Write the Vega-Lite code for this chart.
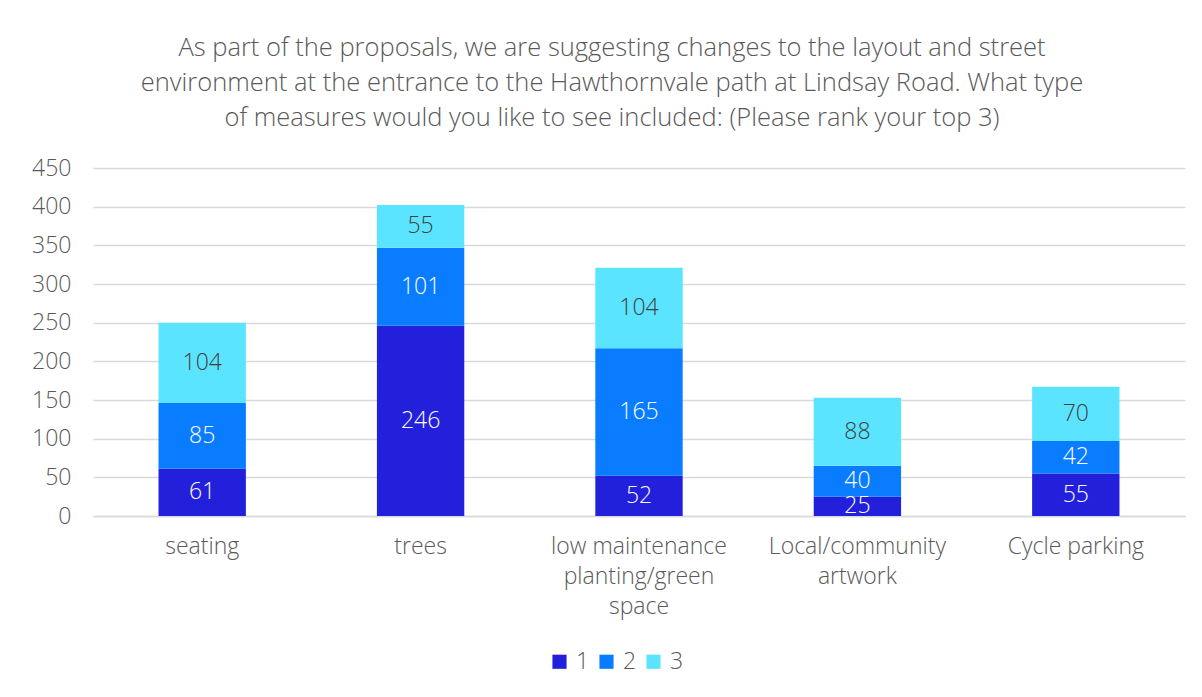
{
  "$schema": "https://vega.github.io/schema/vega-lite/v6.json",
  "width": 1092,
  "height": 348,
  "autosize": {"type": "none"},
  "padding": {"left": 93, "top": 168, "right": 17, "bottom": 181},
  "background": "white",
  "title": {
    "text": ["As part of the proposals, we are suggesting changes to the layout and street", "environment at the entrance to the Hawthornvale path at Lindsay Road. What type", "of measures would you like to see included: (Please rank your top 3)"],
    "anchor": "middle",
    "dx": -27,
    "offset": 26,
    "fontSize": 25.5,
    "font": "Open Sans",
    "fontWeight": 300,
    "color": "#595959",
    "lineHeight": 35
  },
  "data": {
    "values": [
      {"cat": "seating", "rank": "1", "value": 61},
      {"cat": "seating", "rank": "2", "value": 85},
      {"cat": "seating", "rank": "3", "value": 104},
      {"cat": "trees", "rank": "1", "value": 246},
      {"cat": "trees", "rank": "2", "value": 101},
      {"cat": "trees", "rank": "3", "value": 55},
      {"cat": "low maintenance|planting/green|space", "rank": "1", "value": 52},
      {"cat": "low maintenance|planting/green|space", "rank": "2", "value": 165},
      {"cat": "low maintenance|planting/green|space", "rank": "3", "value": 104},
      {"cat": "Local/community|artwork", "rank": "1", "value": 25},
      {"cat": "Local/community|artwork", "rank": "2", "value": 40},
      {"cat": "Local/community|artwork", "rank": "3", "value": 88},
      {"cat": "Cycle parking", "rank": "1", "value": 55},
      {"cat": "Cycle parking", "rank": "2", "value": 42},
      {"cat": "Cycle parking", "rank": "3", "value": 70}
    ]
  },
  "transform": [
    {"stack": "value", "groupby": ["cat"], "sort": [{"field": "rank", "order": "ascending"}], "as": ["v0", "v1"]},
    {"calculate": "(datum.v0 + datum.v1) / 2", "as": "mid"}
  ],
  "encoding": {
    "x": {
      "field": "cat",
      "type": "nominal",
      "sort": null,
      "title": null,
      "scale": {"paddingInner": 0.6, "paddingOuter": 0.3},
      "axis": {
        "labelAngle": 0,
        "labelExpr": "split(datum.value, '|')",
        "labelFontSize": 23,
        "labelFont": "Open Sans",
        "labelFontWeight": 300,
        "labelColor": "#595959",
        "labelPadding": 19,
        "labelLineHeight": 30,
        "ticks": false,
        "domainColor": "#d9d9d9",
        "domainWidth": 1.5
      }
    }
  },
  "layer": [
    {
      "mark": {"type": "bar"},
      "encoding": {
        "y": {
          "field": "v1",
          "type": "quantitative",
          "scale": {"domain": [0, 450]},
          "title": null,
          "axis": {
            "values": [0, 50, 100, 150, 200, 250, 300, 350, 400, 450],
            "labelOverlap": false,
            "labelFontSize": 23,
            "labelFont": "Open Sans",
            "labelFontWeight": 300,
            "labelColor": "#595959",
            "labelPadding": 22,
            "ticks": false,
            "domain": false,
            "gridColor": "#d9d9d9",
            "gridWidth": 1.5
          }
        },
        "y2": {"field": "v0"},
        "color": {
          "field": "rank",
          "type": "nominal",
          "scale": {"domain": ["1", "2", "3"], "range": ["#2320DB", "#0A7CFF", "#5BE4FF"]},
          "legend": {
            "title": null,
            "orient": "none",
            "legendX": 455,
            "legendY": 482,
            "direction": "horizontal",
            "symbolType": "square",
            "symbolSize": 200,
            "symbolStrokeWidth": 0,
            "labelFontSize": 23,
            "labelFont": "Open Sans",
            "labelFontWeight": 300,
            "labelColor": "#595959",
            "columnPadding": 5,
            "labelOffset": 5
          }
        }
      }
    },
    {
      "mark": {"type": "text", "fontSize": 23, "font": "Open Sans", "fontWeight": 300, "baseline": "middle"},
      "encoding": {
        "y": {
          "field": "mid",
          "type": "quantitative",
          "title": null,
          "axis": {
            "values": [0, 50, 100, 150, 200, 250, 300, 350, 400, 450],
            "labelOverlap": false,
            "labelFontSize": 23,
            "labelFont": "Open Sans",
            "labelFontWeight": 300,
            "labelColor": "#595959",
            "labelPadding": 22,
            "ticks": false,
            "domain": false,
            "gridColor": "#d9d9d9",
            "gridWidth": 1.5
          }
        },
        "text": {"field": "value", "type": "quantitative"},
        "color": {
          "condition": {"test": "datum.rank === '3'", "value": "#404040"},
          "value": "#ffffff"
        }
      }
    }
  ],
  "config": {"view": {"stroke": null}}
}
